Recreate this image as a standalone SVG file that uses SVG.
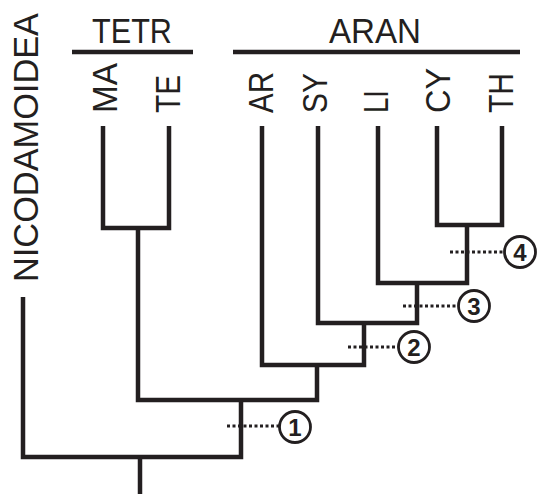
<svg xmlns="http://www.w3.org/2000/svg" width="538" height="494" viewBox="0 0 538 494">
<style>
.t{font-family:"Liberation Sans","DejaVu Sans",sans-serif;font-size:35px;fill:#231f20}
.br{fill:none;stroke:#231f20;stroke-width:4.5;stroke-linejoin:miter;stroke-linecap:butt}
.bar{stroke:#231f20;stroke-width:4.5}
.dot{stroke:#231f20;stroke-width:3;stroke-dasharray:3 2.5}
.c{fill:#fff;stroke:#231f20;stroke-width:2.8}
.n{font-family:"Liberation Sans","DejaVu Sans",sans-serif;font-size:24px;font-weight:bold;fill:#231f20;text-anchor:middle}
</style>
<rect width="538" height="494" fill="#fff"/>
<g id="clade-TETR">
<line class="bar" x1="72" y1="52" x2="193" y2="52"/>
<text class="t" x="132" y="43" text-anchor="middle" textLength="80" lengthAdjust="spacingAndGlyphs">TETR</text>
</g>
<g id="clade-ARAN">
<line class="bar" x1="233" y1="52" x2="520" y2="52"/>
<text class="t" x="375" y="43" text-anchor="middle" textLength="92" lengthAdjust="spacingAndGlyphs">ARAN</text>
</g>
<g id="taxon-NICODAMOIDEA"><text class="t" transform="translate(38,282) rotate(-90)" textLength="269" lengthAdjust="spacingAndGlyphs">NICODAMOIDEA</text></g>
<g id="taxon-MA"><text class="t" transform="translate(117,113) rotate(-90)" textLength="50" lengthAdjust="spacingAndGlyphs">MA</text></g>
<g id="taxon-TE"><text class="t" transform="translate(180,113) rotate(-90)" textLength="38" lengthAdjust="spacingAndGlyphs">TE</text></g>
<g id="taxon-AR"><text class="t" transform="translate(273,113) rotate(-90)" textLength="41" lengthAdjust="spacingAndGlyphs">AR</text></g>
<g id="taxon-SY"><text class="t" transform="translate(327,113) rotate(-90)" textLength="40" lengthAdjust="spacingAndGlyphs">SY</text></g>
<g id="taxon-LI"><text class="t" transform="translate(388,113) rotate(-90)" textLength="23" lengthAdjust="spacingAndGlyphs">LI</text></g>
<g id="taxon-CY"><text class="t" transform="translate(450,113) rotate(-90)" textLength="45" lengthAdjust="spacingAndGlyphs">CY</text></g>
<g id="taxon-TH"><text class="t" transform="translate(513,113) rotate(-90)" textLength="40" lengthAdjust="spacingAndGlyphs">TH</text></g>
<g id="connectors">
<polyline class="br" points="103,126 103,228 169,228 169,126"/>
<polyline class="br" points="437,126 437,225 502,225 502,126"/>
<polyline class="br" points="378,126 378,283 467,283 467,225"/>
<polyline class="br" points="318,126 318,323 417,323 417,283"/>
<polyline class="br" points="262,126 262,365 364,365 364,323"/>
<polyline class="br" points="138,228 138,400 317,400 317,365"/>
<polyline class="br" points="23,297 23,457 241,457 241,400"/>
<line class="br" x1="140" y1="457" x2="140" y2="494"/>
<line class="dot" x1="227" y1="426" x2="279" y2="426"/>
<line class="dot" x1="348" y1="347" x2="399" y2="347"/>
<line class="dot" x1="403" y1="306" x2="457" y2="306"/>
<line class="dot" x1="450" y1="252" x2="504" y2="252"/>
</g>
<g id="node-1"><circle class="c" cx="295" cy="427" r="15.5"/><text class="n" x="295" y="435.5">1</text></g>
<g id="node-2"><circle class="c" cx="414" cy="347" r="15.5"/><text class="n" x="414" y="355.5">2</text></g>
<g id="node-3"><circle class="c" cx="474" cy="306" r="15.5"/><text class="n" x="474" y="314.5">3</text></g>
<g id="node-4"><circle class="c" cx="520" cy="252" r="15.5"/><text class="n" x="520" y="260.5">4</text></g>
</svg>
